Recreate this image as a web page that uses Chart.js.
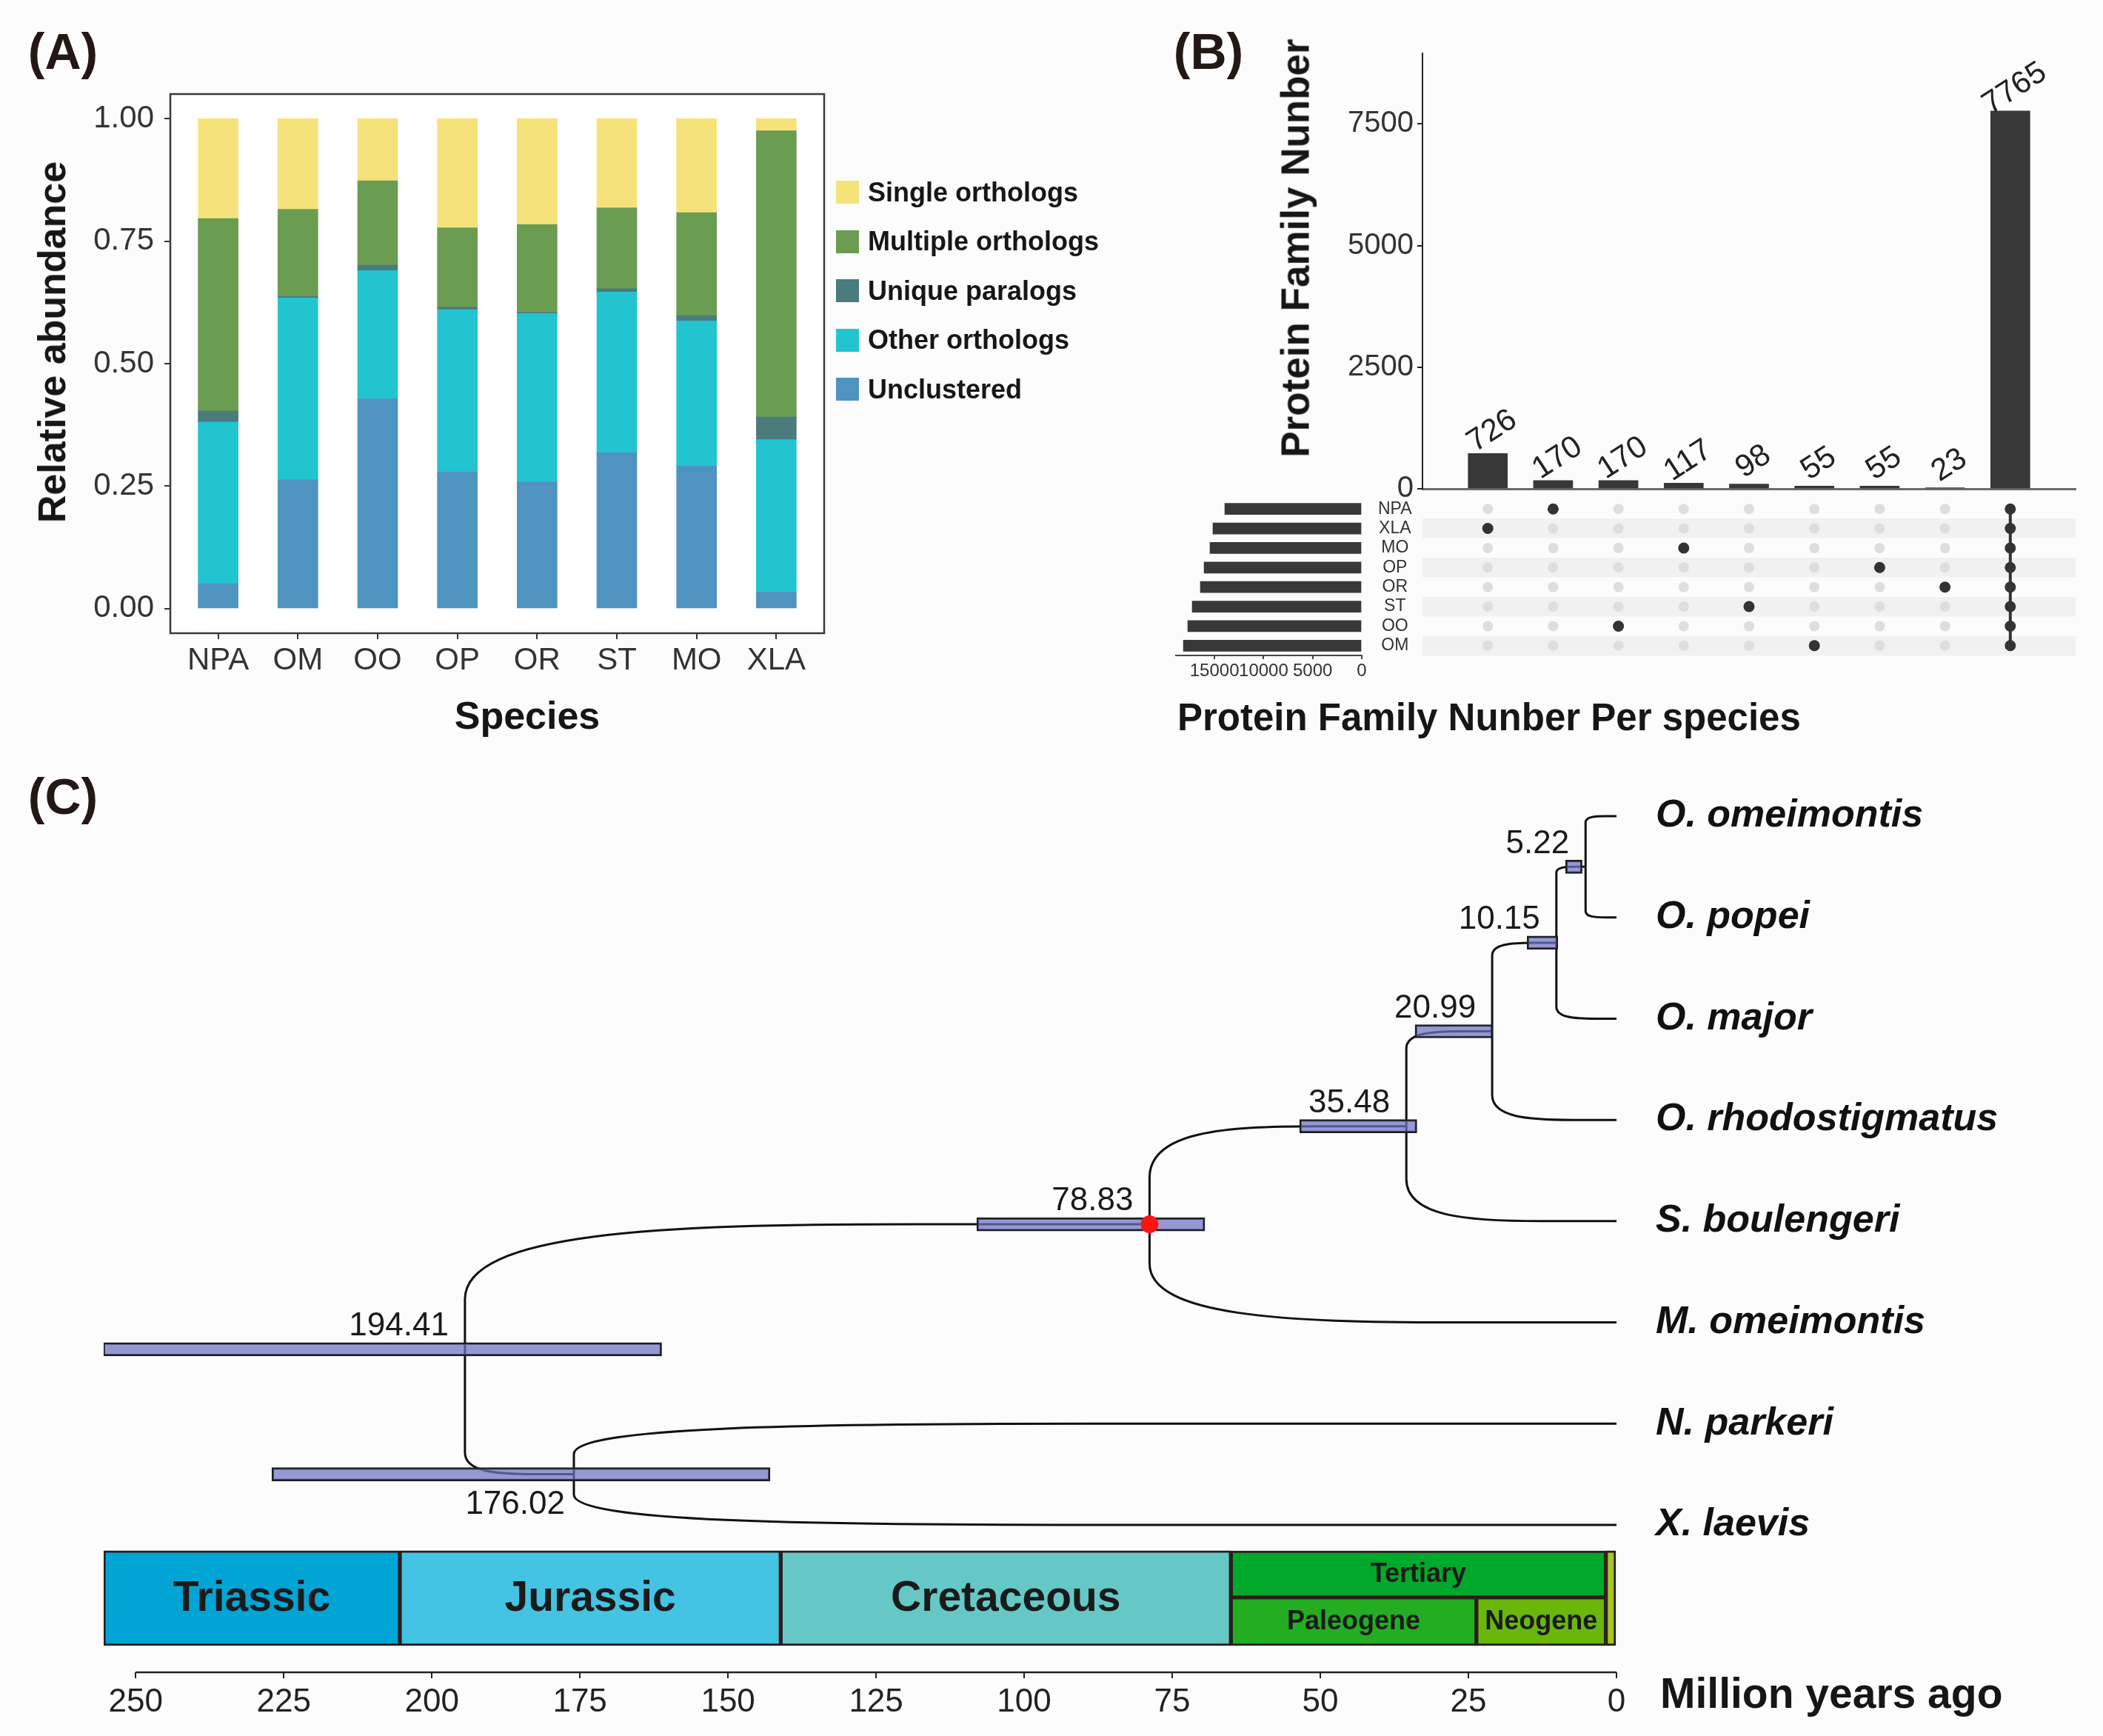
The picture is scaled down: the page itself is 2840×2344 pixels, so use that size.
<!DOCTYPE html>
<html><head><meta charset="utf-8">
<script src="https://cdn.jsdelivr.net/npm/chart.js@4.4.1/dist/chart.umd.min.js"></script>
<style>
html,body{margin:0;padding:0;background:#fcfcfc;}
#root{position:relative;width:2840px;height:2344px;overflow:hidden;font-family:'Liberation Sans',Arial,sans-serif;}
canvas{position:absolute;}
.t{position:absolute;white-space:nowrap;color:#161616;font-weight:bold;line-height:1;}
.c{transform:translate(-50%,-50%);}
.r{transform:translate(-50%,-50%) rotate(-90deg);}
.p{color:#231815;font-size:68px;}
.lg{position:absolute;width:31px;height:31px;}
</style></head><body><div id="root">
<canvas id="cA" width="1130" height="1000" style="left:0;top:0"></canvas>
<canvas id="cB1" width="1240" height="700" style="left:1600px;top:0"></canvas>
<canvas id="cB2" width="1240" height="240" style="left:1600px;top:660px"></canvas>
<canvas id="cB3" width="361" height="260" style="left:1560px;top:660px"></canvas>
<canvas id="cC" width="2840" height="1444" style="left:0;top:900px"></canvas>

<div class="t c p" style="left:85px;top:69px">(A)</div>
<div class="t c p" style="left:1632px;top:69px">(B)</div>
<div class="t c p" style="left:85px;top:1075px">(C)</div>
<div class="t r" style="left:70px;top:462px;font-size:52px">Relative abundance</div>
<div class="t c" style="left:712px;top:966px;font-size:52px">Species</div>
<div class="t r" style="left:1749px;top:335px;font-size:53px">Protein Family Nunber</div>
<div class="t" style="left:1590px;top:943px;font-size:51px">Protein Family Nunber Per species</div>
<div class="t" style="left:2242px;top:2258px;font-size:57px">Million years ago</div>
</div>
<script>
// ---------------- Panel A data ----------------
const speciesA = ['NPA','OM','OO','OP','OR','ST','MO','XLA'];
const unclustered       = [0.051,0.263,0.428,0.279,0.259,0.318,0.291,0.034];
const otherOrthologs    = [0.330,0.371,0.262,0.331,0.343,0.328,0.296,0.311];
const uniqueParalogs    = [0.022,0.003,0.011,0.005,0.003,0.007,0.011,0.046];
const multipleOrthologs = [0.393,0.178,0.172,0.162,0.179,0.165,0.210,0.584];
const singleOrthologs   = [0.204,0.185,0.127,0.223,0.216,0.182,0.192,0.025];
const abundanceTicks = [0, 0.25, 0.5, 0.75, 1];

// ---------------- Panel B data ----------------
const setNames = ['NPA','XLA','MO','OP','OR','ST','OO','OM'];
const setSizes = [13950,15160,15460,16060,16440,17270,17720,18170];
const setSizeTicks = [0,5000,10000,15000];
const intersectionCounts = [726,170,170,117,98,55,55,23,7765];
const intersectionMembers = [['XLA'],['NPA'],['OO'],['MO'],['ST'],['OM'],['OP'],['OR'],
  ['NPA','XLA','MO','OP','OR','ST','OO','OM']];
const countTicks = [0,2500,5000,7500];

// ---------------- Panel C data ----------------
const tipNames = ['O. omeimontis','O. popei','O. major','O. rhodostigmatus','S. boulengeri','M. omeimontis','N. parkeri','X. laevis'];
const nodeIds        = ['n1','n2','n3','n4','n5','n6','n7'];
const nodeAges       = [5.22,10.15,20.99,35.48,78.83,176.02,194.41];
const nodeHpdOld     = [8.6,15.1,34.0,53.5,108.0,227.0,255.5];
const nodeHpdYoung   = [5.8,9.9,20.9,33.7,69.5,142.9,161.2];
const nodeChildUpper = ['O. omeimontis','n1','n2','n3','n4','N. parkeri','n5'];
const nodeChildLower = ['O. popei','O. major','O. rhodostigmatus','S. boulengeri','M. omeimontis','X. laevis','n6'];
const calibratedNodes = ['n5'];
const ageTicks = [250,225,200,175,150,125,100,75,50,25,0];
const periodNames = ['Triassic','Jurassic','Cretaceous','Tertiary','Paleogene','Neogene',''];
const periodOld   = [255.4,205.4,141.1,65.1,65.1,23.65,1.8];
const periodYoung = [205.4,141.1,65.1,1.8,23.65,1.8,0];
const periodLevel = ['full','full','full','upper','lower','lower','full'];

// ---------------- styles ----------------
Chart.defaults.font.family = "'Liberation Sans', Arial, sans-serif";
Chart.defaults.color = '#222';
Chart.defaults.animation = false;
Chart.defaults.responsive = false;
Chart.defaults.plugins.legend.display = false;
Chart.defaults.plugins.tooltip.enabled = false;

const seriesA = [
  {name:'Unclustered', values:unclustered, color:'#4f93c0'},
  {name:'Other orthologs', values:otherOrthologs, color:'#22c4d0'},
  {name:'Unique paralogs', values:uniqueParalogs, color:'#4a7b7d'},
  {name:'Multiple orthologs', values:multipleOrthologs, color:'#6a9c52'},
  {name:'Single orthologs', values:singleOrthologs, color:'#f6e27b'}
];
const periodColors = ['#00a5d6','#44c3e3','#66c8c6','#00a82b','#23ae22','#6ab70b','#a7c61f'];

// legend (HTML, from series)
const root = document.getElementById('root');
seriesA.slice().reverse().forEach((s, i) => {
  const cy = 259.5 + 66.5 * i;
  const sq = document.createElement('div'); sq.className = 'lg';
  sq.style.left = '1129px'; sq.style.top = (cy - 15.5) + 'px'; sq.style.background = s.color;
  root.appendChild(sq);
  const tx = document.createElement('div'); tx.className = 't';
  tx.style.left = '1172px'; tx.style.top = (cy - 18) + 'px'; tx.style.fontSize = '36px';
  tx.textContent = s.name; root.appendChild(tx);
});

// ---------------- Chart A ----------------
const framePlugin = {id:'frame',
  beforeDraw(chart){const {ctx, chartArea:a} = chart; ctx.save(); ctx.fillStyle='#ffffff'; ctx.fillRect(a.left,a.top,a.width,a.height); ctx.restore();},
  afterDraw(chart){const {ctx, chartArea:a} = chart; ctx.save(); ctx.strokeStyle='#3a3a3a'; ctx.lineWidth=2.5; ctx.strokeRect(a.left,a.top,a.width,a.height); ctx.restore();}
};
new Chart(document.getElementById('cA'), {
  type:'bar',
  data:{datasets: seriesA.map(s => ({label:s.name, data:s.values.map((v,i)=>({x:i,y:v})), backgroundColor:s.color, barThickness:54, borderWidth:0}))},
  options:{
    layout:{padding:{left:0,top:127,right:17,bottom:0}},
    scales:{
      x:{type:'linear', min:-0.6, max:7.6, stacked:true, offset:false,
         afterBuildTicks:s=>{s.ticks = speciesA.map((_,i)=>({value:i}));},
         afterFit:s=>{s.height=145;},
         ticks:{callback:v=>speciesA[v], font:{size:42}, color:'#333', padding:4, autoSkip:false, maxRotation:0, minRotation:0},
         grid:{offset:false, drawOnChartArea:false, tickLength:8, color:'#333', lineWidth:2}, border:{display:false}},
      y:{type:'linear', min:-0.05, max:1.05, stacked:true, offset:false,
         afterBuildTicks:s=>{s.ticks = abundanceTicks.map(v=>({value:v}));},
         afterFit:s=>{s.width=230;},
         ticks:{callback:v=>Number(v).toFixed(2), font:{size:42}, color:'#333', padding:14},
         grid:{offset:false, drawOnChartArea:false, tickLength:8, color:'#333', lineWidth:2}, border:{display:false}}
    }
  },
  plugins:[framePlugin]
});

// ---------------- Chart B1: intersection bars ----------------
const barLabelPlugin = {id:'barLabels', afterDatasetsDraw(chart){
  const {ctx} = chart; const meta = chart.getDatasetMeta(0);
  ctx.save(); ctx.font = "42px 'Liberation Sans', Arial"; ctx.fillStyle='#222'; ctx.textAlign='center'; ctx.textBaseline='middle';
  meta.data.forEach((el,i)=>{ ctx.save(); ctx.translate(el.x+6, el.y-30); ctx.rotate(-33*Math.PI/180); ctx.fillText(String(intersectionCounts[i]),0,0); ctx.restore(); });
  ctx.restore();
}};
new Chart(document.getElementById('cB1'), {
  type:'bar',
  data:{datasets:[{data:intersectionCounts.map((v,i)=>({x:i,y:v})), backgroundColor:'#383838', barThickness:53, borderWidth:0}]},
  options:{
    layout:{padding:{left:0,top:72,right:37,bottom:0}},
    scales:{
      x:{type:'linear', min:-1, max:9, offset:false, ticks:{display:false}, grid:{display:false, offset:false}, border:{color:'#6b6b6b', width:3}, afterFit:s=>{s.height=40;}},
      y:{type:'linear', min:0, max:8950, offset:false,
         afterBuildTicks:s=>{s.ticks = countTicks.map(v=>({value:v}));},
         afterFit:s=>{s.width=321;},
         ticks:{callback:v=>String(v), font:{size:40}, color:'#333', padding:5},
         grid:{drawOnChartArea:false, tickLength:7, color:'#222', lineWidth:2}, border:{color:'#222', width:2}}
    }
  },
  plugins:[barLabelPlugin]
});

// ---------------- Chart B2: matrix ----------------
const allCells = [], memberCells = [], linkDatasets = [];
intersectionMembers.forEach((mem, c) => {
  setNames.forEach(n => { allCells.push({x:c, y:n}); });
  mem.forEach(n => memberCells.push({x:c, y:n}));
  if (mem.length > 1) {
    const idx = mem.map(n => setNames.indexOf(n)).sort((a,b)=>a-b);
    linkDatasets.push({type:'line', data:[{x:c,y:setNames[idx[0]]},{x:c,y:setNames[idx[idx.length-1]]}], borderColor:'#333', borderWidth:4, pointRadius:0, showLine:true, order:2});
  }
});
new Chart(document.getElementById('cB2'), {
  type:'scatter',
  data:{datasets:[
    {data:allCells, pointRadius:7, pointBackgroundColor:'#dedede', pointBorderWidth:0, order:3},
    ...linkDatasets,
    {data:memberCells, pointRadius:7.5, pointBackgroundColor:'#333', pointBorderWidth:0, order:1}
  ]},
  options:{
    layout:{padding:{left:321,top:14,right:37,bottom:15}},
    scales:{
      x:{type:'linear', min:-1, max:9, display:false},
      y:{type:'category', labels:setNames, offset:true, ticks:{display:false},
         grid:{offset:false, drawTicks:false, lineWidth:26.4, color:c=> c.index % 2 === 1 ? '#f1f1f1' : 'rgba(0,0,0,0)'},
         border:{display:false}, afterFit:s=>{s.width=0;}}
    }
  }
});

// ---------------- Chart B3: set sizes ----------------
new Chart(document.getElementById('cB3'), {
  type:'bar',
  data:{labels:setNames, datasets:[{data:setSizes, backgroundColor:'#383838', barThickness:15, borderWidth:0}]},
  options:{
    indexAxis:'y',
    layout:{padding:{left:28,top:14,right:0,bottom:0}},
    scales:{
      x:{type:'linear', min:0, max:18930, reverse:true,
         afterBuildTicks:s=>{s.ticks = setSizeTicks.map(v=>({value:v}));},
         afterFit:s=>{s.height=35;},
         ticks:{callback:v=>String(v), font:{size:24}, color:'#333', padding:2, autoSkip:false, maxRotation:0, minRotation:0},
         grid:{drawOnChartArea:false, tickLength:5, color:'#444', lineWidth:2}, border:{color:'#444', width:2}},
      y:{type:'category', position:'right', afterFit:s=>{s.width=82;},
         ticks:{font:{size:23}, color:'#333', padding:0, crossAlign:'center', autoSkip:false},
         grid:{display:false, drawTicks:true, tickLength:22}, border:{display:false}}
    }
  }
});

// ---------------- Chart C: dated tree ----------------
const isTip = id => tipNames.includes(id);
function ageOf(id){ return isTip(id) ? 0 : nodeAges[nodeIds.indexOf(id)]; }
function yOf(id){
  if (isTip(id)) return tipNames.indexOf(id);
  const k = nodeIds.indexOf(id);
  return (yOf(nodeChildUpper[k]) + yOf(nodeChildLower[k])) / 2;
}
const levelGeom = {full:{c:7.724, t:128, f:57}, upper:{c:7.4865, t:63, f:36}, lower:{c:7.9545, t:65, f:36}};

function drawBranch(ctx, xp, yp, xc, yc){
  const L = xc - xp, dy = yc - yp, s = Math.sign(dy);
  const ry = Math.min(Math.abs(dy)*0.6, L*0.2);
  const rx = Math.min(L*0.65, 700);
  ctx.beginPath(); ctx.moveTo(xp, yp); ctx.lineTo(xp, yc - s*ry);
  ctx.bezierCurveTo(xp, yc - s*ry*0.1, xp + rx*0.45, yc, xp + rx, yc);
  ctx.lineTo(xc, yc); ctx.stroke();
}
const treePlugin = {id:'tree',
  beforeDatasetsDraw(chart){
    const {ctx, scales:{x, y}} = chart;
    ctx.save(); ctx.strokeStyle='#111'; ctx.lineWidth=3; ctx.lineJoin='round';
    nodeIds.forEach((id,k)=>{
      const xp = x.getPixelForValue(nodeAges[k]), yp = y.getPixelForValue(yOf(id));
      [nodeChildUpper[k], nodeChildLower[k]].forEach(ch=>{
        drawBranch(ctx, xp, yp, x.getPixelForValue(ageOf(ch)), y.getPixelForValue(yOf(ch)));
      });
    });
    ctx.restore();
  },
  afterDatasetsDraw(chart){
    const {ctx, scales:{x, y}} = chart;
    ctx.save(); ctx.fillStyle='#1a1a1a';
    ctx.font = "44px 'Liberation Sans', Arial"; ctx.textAlign='right'; ctx.textBaseline='middle';
    nodeIds.forEach((id,k)=>{
      const xp = x.getPixelForValue(nodeAges[k]), yp = y.getPixelForValue(yOf(id));
      const below = nodeChildLower.includes(id);
      ctx.fillText(nodeAges[k].toFixed(2), below ? xp - 12 : xp - 22, below ? yp + 41 : yp - 31);
    });
    ctx.textAlign='center';
    periodNames.forEach((nm,i)=>{
      if (!nm) return;
      const g = levelGeom[periodLevel[i]];
      ctx.font = "bold " + g.f + "px 'Liberation Sans', Arial";
      ctx.fillText(nm, (x.getPixelForValue(periodOld[i]) + x.getPixelForValue(periodYoung[i]))/2, y.getPixelForValue(g.c) + 1);
    });
    ctx.restore();
  },
  afterDraw(chart){
    const {ctx, chartArea:a, scales:{x}} = chart;
    ctx.save(); ctx.strokeStyle='#222'; ctx.lineWidth=2.5;
    ctx.beginPath(); ctx.moveTo(x.getPixelForValue(ageTicks[0]), a.bottom); ctx.lineTo(x.getPixelForValue(ageTicks[ageTicks.length-1]), a.bottom); ctx.stroke();
    ctx.restore();
  }
};
const periodDatasets = ['full','upper','lower'].map(level=>{
  const idx = periodNames.map((_,i)=>i).filter(i=>periodLevel[i]===level);
  const g = levelGeom[level];
  return {type:'bar', indexAxis:'y', grouped:false, data: idx.map(i=>({y:g.c, x:[periodOld[i], periodYoung[i]]})),
    backgroundColor: idx.map(i=>periodColors[i]), borderColor:'#2a1e1e', borderWidth:3, borderSkipped:false, barThickness:g.t, order:3};
});
new Chart(document.getElementById('cC'), {
  type:'bar',
  data:{datasets:[
    {type:'scatter', data: calibratedNodes.map(id=>({x:ageOf(id), y:yOf(id)})), pointRadius:12, pointBackgroundColor:'#ff1414', pointBorderWidth:0, order:0},
    {type:'bar', indexAxis:'y', grouped:false, data: nodeIds.map((id,k)=>({y:yOf(id), x:[nodeHpdOld[k], nodeHpdYoung[k]]})),
      backgroundColor:'rgba(110,115,195,0.72)', borderColor:'#1e1e1e', borderWidth:2.5, borderSkipped:false, barThickness:18, order:1},
    ...periodDatasets
  ]},
  options:{
    layout:{padding:{left:140, top:65.3, right:0, bottom:0}},
    scales:{
      x:{type:'linear', min:0, max:255.4, reverse:true, offset:false,
         afterBuildTicks:s=>{s.ticks = ageTicks.map(v=>({value:v}));},
         afterFit:s=>{s.height=86;},
         ticks:{callback:v=>String(v), font:{size:44}, color:'#222', padding:6, autoSkip:false, maxRotation:0, minRotation:0},
         grid:{offset:false, drawOnChartArea:false, tickLength:8, color:'#222', lineWidth:2}, border:{display:false}},
      y:{type:'linear', position:'right', min:-1, max:8.456, reverse:true, offset:false,
         afterBuildTicks:s=>{s.ticks = tipNames.map((_,i)=>({value:i}));},
         afterFit:s=>{s.width=657;},
         ticks:{callback:v=>tipNames[v], font:{size:52, weight:'bold', style:'italic'}, color:'#111', padding:0, autoSkip:false},
         grid:{display:false, drawTicks:true, tickLength:53, offset:false}, border:{display:false}}
    }
  },
  plugins:[treePlugin]
});
</script>
</body></html>
